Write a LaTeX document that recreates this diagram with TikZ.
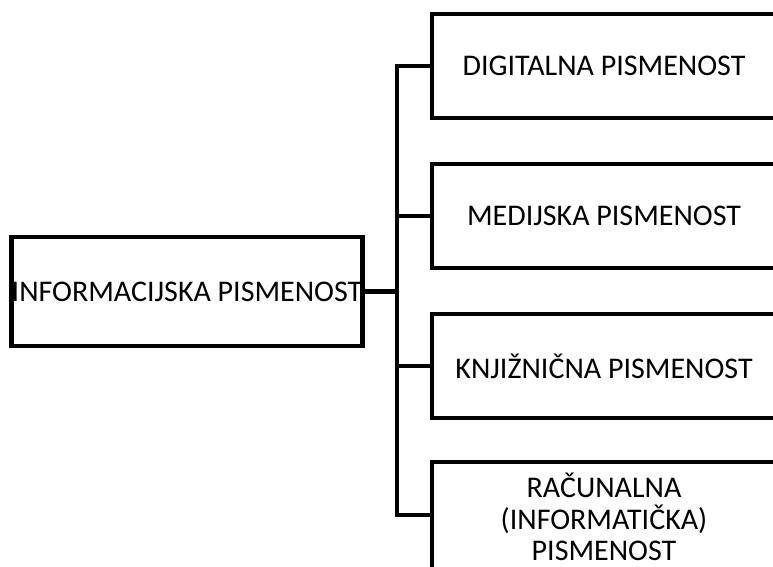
\documentclass[tikz,border=0pt]{standalone}
\usepackage{fontspec}
\setmainfont{Carlito}
\begin{document}
\begin{tikzpicture}[x=1pt,y=-1pt,
  box/.style={draw=black, line width=4.5pt, rectangle, inner sep=0pt, align=center,
    font=\fontsize{30}{31.5}\selectfont},
  mainbox/.style={box, minimum width=350pt, minimum height=109pt},
  subbox/.style={box, minimum width=344pt, minimum height=104pt},
  conn/.style={draw=black, line width=4.5pt}]
\useasboundingbox (0,0) rectangle (773,567);
\clip (0,0) rectangle (773,567);
\fill[white] (0,0) rectangle (773,567);
\node[mainbox] (main) at (187,291.5) {INFORMACIJSKA PISMENOST};
\node[subbox] (b1) at (604,66) {DIGITALNA PISMENOST};
\node[subbox] (b2) at (604,216) {MEDIJSKA PISMENOST};
\node[subbox] (b3) at (604,366) {KNJIŽNIČNA PISMENOST};
\node[subbox, minimum height=110pt] (b4) at (604,517) {RAČUNALNA\\(INFORMATIČKA)\\PISMENOST};
\coordinate (bus) at (397,0);
\coordinate (b4in) at (432,515);
\draw[conn] (b1.west) -| (bus |- b4in) -- (b4in);
\draw[conn] (b2.west) -- (b2.west -| bus);
\draw[conn] (b3.west) -- (b3.west -| bus);
\draw[conn] (main.east) -- (main.east -| bus);
\end{tikzpicture}
\end{document}
